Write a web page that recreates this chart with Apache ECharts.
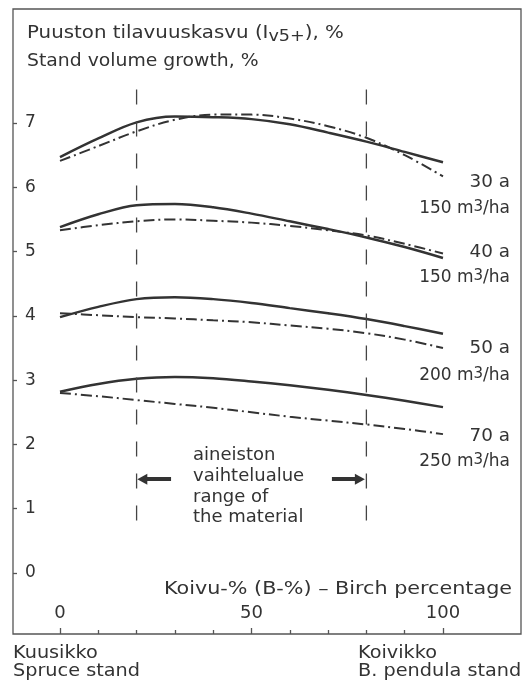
<!DOCTYPE html>
<html><head><meta charset="utf-8">
<script src="https://cdn.jsdelivr.net/npm/echarts@6/dist/echarts.min.js"></script>
<style>html,body{margin:0;padding:0;background:#fff}#c{width:529px;height:681px}</style>
</head><body><div id="c"></div>
<script>
// ---- data ----
const birchPct = [0, 10, 20, 30, 40, 50, 60, 70, 80, 90, 100];
const growth30Solid = [6.47, 6.76, 7.01, 7.10, 7.09, 7.06, 6.98, 6.85, 6.71, 6.55, 6.39];
const growth30Dash  = [6.41, 6.64, 6.87, 7.05, 7.13, 7.13, 7.07, 6.95, 6.77, 6.50, 6.17];
const growth40Solid = [5.38, 5.58, 5.72, 5.74, 5.69, 5.59, 5.47, 5.35, 5.22, 5.07, 4.90];
const growth40Dash  = [5.33, 5.41, 5.47, 5.50, 5.48, 5.45, 5.40, 5.33, 5.25, 5.12, 4.97];
const growth50Solid = [3.98, 4.14, 4.26, 4.29, 4.26, 4.20, 4.12, 4.04, 3.95, 3.84, 3.72];
const growth50Dash  = [4.04, 4.01, 3.98, 3.96, 3.93, 3.90, 3.85, 3.80, 3.73, 3.63, 3.50];
const growth70Solid = [2.82, 2.94, 3.02, 3.05, 3.03, 2.98, 2.92, 2.85, 2.77, 2.68, 2.58];
const growth70Dash  = [2.80, 2.75, 2.69, 2.63, 2.57, 2.50, 2.43, 2.37, 2.31, 2.24, 2.16];
const rangeBounds = [20, 80];
const rangeLineExtent = [0.79, 7.52];
const arrowLevel = 1.46;
const xMajorTicks = [0, 50, 100];
const xMinorTicks = [10, 20, 30, 40, 60, 70, 80, 90];
const yTicks = [0, 1, 2, 3, 4, 5, 6, 7];
const curveLabels = [['30 a', '150'], ['40 a', '150'], ['50 a', '200'], ['70 a', '250']];

// ---- chart ----
const chart = echarts.init(document.getElementById('c'), null, {renderer: 'canvas'});
const F = '"DejaVu Sans", sans-serif';
const C = '#333';
const X_MIN = -12.27, X_MAX = 120.37, Y_MIN = -0.949, Y_MAX = 8.773;

function pairs(ys) { return birchPct.map((x, i) => [x, ys[i]]); }
const curves = [
  [growth30Solid, false], [growth30Dash, true],
  [growth40Solid, false], [growth40Dash, true],
  [growth50Solid, false], [growth50Dash, true],
  [growth70Solid, false], [growth70Dash, true]
];
const series = curves.map(([ys, dash]) => ({
  type: 'line', data: pairs(ys), smooth: 0.35, symbol: 'none', silent: true,
  lineStyle: {color: C, width: dash ? 2 : 2.5, type: dash ? [11, 4, 2, 4] : 'solid'}
}));
rangeBounds.forEach((b, i) => {
  const s = {
    type: 'line', data: [[b, rangeLineExtent[1]], [b, rangeLineExtent[0]]], symbol: 'none', silent: true,
    lineStyle: {color: '#444', width: 1.3, type: [15, 17]}
  };
  if (i === 0) {
    s.markLine = {
      silent: true, symbol: ['none', 'triangle'], symbolSize: [11, 10],
      label: {show: false}, lineStyle: {color: C, width: 4, type: 'solid'},
      data: [
        [{coord: [29.0, arrowLevel]}, {coord: [21.5, arrowLevel]}],
        [{coord: [71.0, arrowLevel]}, {coord: [78.3, arrowLevel]}]
      ]
    };
  }
  series.push(s);
});

function txt(x, y, text, opts, sx) {
  return {type: 'text', x: x, y: y, scaleX: sx || 1, silent: true,
    style: Object.assign({text: text, fill: C, font: '18px ' + F, textVerticalAlign: 'middle', textAlign: 'left'}, opts || {})};
}
const sup = {
  a: {fontSize: 17, fontFamily: F, fill: C, lineHeight: 20, verticalAlign: 'bottom'},
  s: {fontSize: 15, fontFamily: F, fill: C, lineHeight: 20, verticalAlign: 'bottom', padding: [0, 0, 2, 0]}
};
const centers = [[183, 209], [253, 278], [349, 376], [437, 462]];
const graphics = [
  {type: 'text', x: 27, y: 36, scaleX: 1.1, silent: true, style: {
    text: '{t|Puuston tilavuuskasvu (I}{s|v5+}{t|), %}', textVerticalAlign: 'middle',
    rich: {t: {fontSize: 18, fontFamily: F, fill: C, lineHeight: 24, verticalAlign: 'top'},
           s: {fontSize: 16, fontFamily: F, fill: C, lineHeight: 24, verticalAlign: 'top', padding: [5, 0, 0, 0]}}}},
  txt(27, 61, 'Stand volume growth, %', null, 1.045),
  txt(512, 589, 'Koivu-% (B-%) – Birch percentage', {textAlign: 'right'}, 1.15),
  txt(13, 653, 'Kuusikko', null, 1.07),
  txt(13, 671, 'Spruce stand', null, 1.07),
  txt(358, 653, 'Koivikko', null, 1.07),
  txt(358, 671, 'B. pendula stand', null, 1.07),
  txt(193, 455, 'aineiston'),
  txt(193, 476, 'vaihtelualue'),
  txt(193, 497, 'range of'),
  txt(193, 517, 'the material')
];
curveLabels.forEach((l, i) => {
  graphics.push(txt(510, centers[i][0], l[0], {textAlign: 'right', font: '17px ' + F}, 1.08));
  graphics.push({type: 'text', x: 510, y: centers[i][1] - 2, silent: true, style: {
    text: '{a|' + l[1] + ' m}{s|3}{a|/ha}', textAlign: 'right', textVerticalAlign: 'middle', rich: sup}});
});

chart.setOption({
  animation: false,
  backgroundColor: '#fff',
  grid: {left: 13, right: 8, top: 9, bottom: 47, show: true, borderColor: '#555', borderWidth: 1.3, backgroundColor: 'transparent'},
  xAxis: [
    {type: 'value', min: X_MIN, max: X_MAX, position: 'bottom', splitLine: {show: false}, axisLine: {show: false, onZero: false},
     axisTick: {show: true, inside: true, length: 6, customValues: xMajorTicks, lineStyle: {color: '#555', width: 1.3}},
     axisLabel: {show: true, inside: true, margin: 12, customValues: xMajorTicks, color: C, fontSize: 18, fontFamily: F}},
    {type: 'value', min: X_MIN, max: X_MAX, position: 'bottom', splitLine: {show: false}, axisLine: {show: false, onZero: false},
     axisTick: {show: true, inside: true, length: 4, customValues: xMinorTicks, lineStyle: {color: '#555', width: 1.3}},
     axisLabel: {show: false}}
  ],
  yAxis: {type: 'value', min: Y_MIN, max: Y_MAX, position: 'left', splitLine: {show: false}, axisLine: {show: false, onZero: false},
    axisTick: {show: true, inside: true, length: 4, customValues: yTicks, lineStyle: {color: '#555', width: 1.3}},
    axisLabel: {show: true, inside: true, margin: 12, customValues: yTicks, color: C, fontSize: 17, fontFamily: F}},
  series: series,
  graphic: graphics
});
</script></body></html>
